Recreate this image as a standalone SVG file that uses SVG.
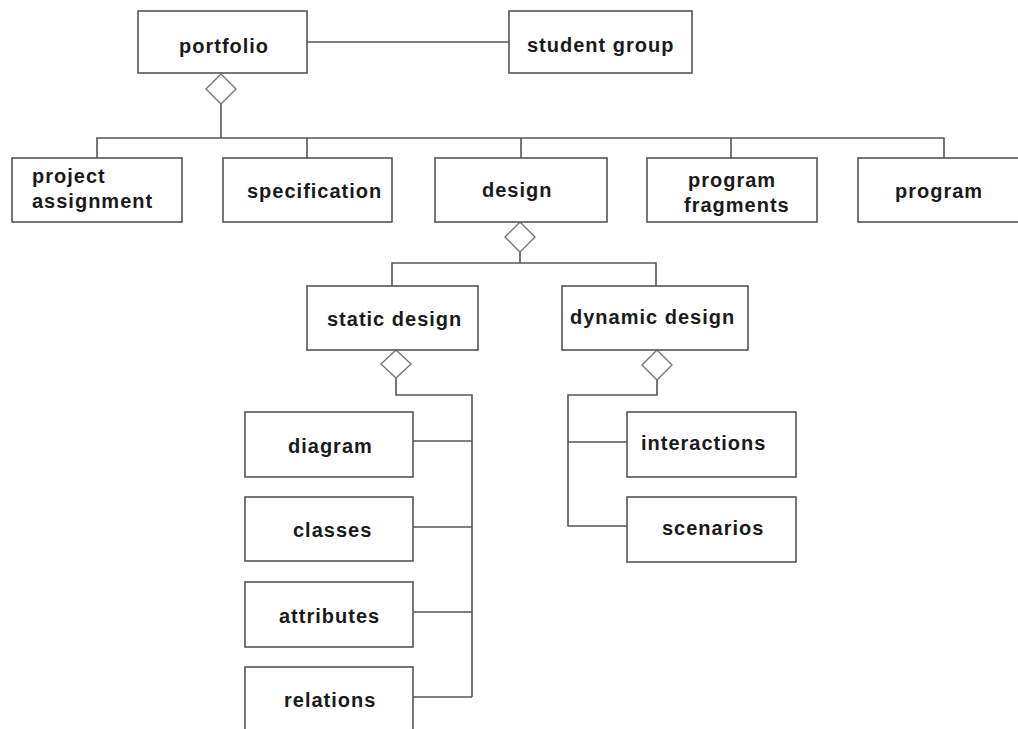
<svg xmlns="http://www.w3.org/2000/svg" width="1018" height="729" viewBox="0 0 1018 729">
<style>
.box{fill:#fff;stroke:#555;stroke-width:1.6}
.ln{fill:none;stroke:#555;stroke-width:1.6}
.dia{fill:#fff;stroke:#777;stroke-width:1.4}
.t{font-family:"Liberation Sans",Arial,sans-serif;font-size:20px;font-weight:bold;letter-spacing:1px;fill:#1a1a1a}
</style>
<rect width="1018" height="729" fill="#fff"/>
<g id="connectors">
<path class="ln" d="M307 42H509"/>
<path class="ln" d="M221 104V138M97 158V138H944V158M307 138V158M521 138V158M731 138V158"/>
<path class="ln" d="M520 252V263M392 286V263H656V286"/>
<path class="ln" d="M396 378V395H472V697M413 441H472M413 527H472M413 612H472M413 697H472"/>
<path class="ln" d="M657 380V395H568V526H627M568 442H627"/>
<polygon class="dia" points="221,74 236,89 221,104 206,89"/>
<polygon class="dia" points="520,222 535,237 520,252 505,237"/>
<polygon class="dia" points="396,350 411,364 396,378 381,364"/>
<polygon class="dia" points="657,350 672,365 657,380 642,365"/>
</g>
<g id="portfolio"><rect class="box" x="138" y="11" width="169" height="62"/><text class="t" x="179" y="53">portfolio</text></g>
<g id="student-group"><rect class="box" x="509" y="11" width="183" height="62"/><text class="t" x="527" y="52">student group</text></g>
<g id="project-assignment"><rect class="box" x="12" y="158" width="170" height="64"/><text class="t" x="32" y="183">project</text><text class="t" x="32" y="208">assignment</text></g>
<g id="specification"><rect class="box" x="223" y="158" width="169" height="64"/><text class="t" x="247" y="198">specification</text></g>
<g id="design"><rect class="box" x="435" y="158" width="172" height="64"/><text class="t" x="482" y="197">design</text></g>
<g id="program-fragments"><rect class="box" x="647" y="158" width="170" height="64"/><text class="t" x="688" y="187">program</text><text class="t" x="684" y="212">fragments</text></g>
<g id="program"><rect class="box" x="858" y="158" width="171" height="64"/><text class="t" x="895" y="198">program</text></g>
<g id="static-design"><rect class="box" x="307" y="286" width="171" height="64"/><text class="t" x="327" y="326">static design</text></g>
<g id="dynamic-design"><rect class="box" x="562" y="286" width="186" height="64"/><text class="t" x="570" y="324">dynamic design</text></g>
<g id="diagram"><rect class="box" x="245" y="412" width="168" height="65"/><text class="t" x="288" y="453">diagram</text></g>
<g id="classes"><rect class="box" x="245" y="497" width="168" height="64"/><text class="t" x="293" y="537">classes</text></g>
<g id="attributes"><rect class="box" x="245" y="582" width="168" height="65"/><text class="t" x="279" y="623">attributes</text></g>
<g id="relations"><rect class="box" x="245" y="667" width="168" height="65"/><text class="t" x="284" y="707">relations</text></g>
<g id="interactions"><rect class="box" x="627" y="412" width="169" height="65"/><text class="t" x="641" y="450">interactions</text></g>
<g id="scenarios"><rect class="box" x="627" y="497" width="169" height="65"/><text class="t" x="662" y="535">scenarios</text></g>
</svg>
